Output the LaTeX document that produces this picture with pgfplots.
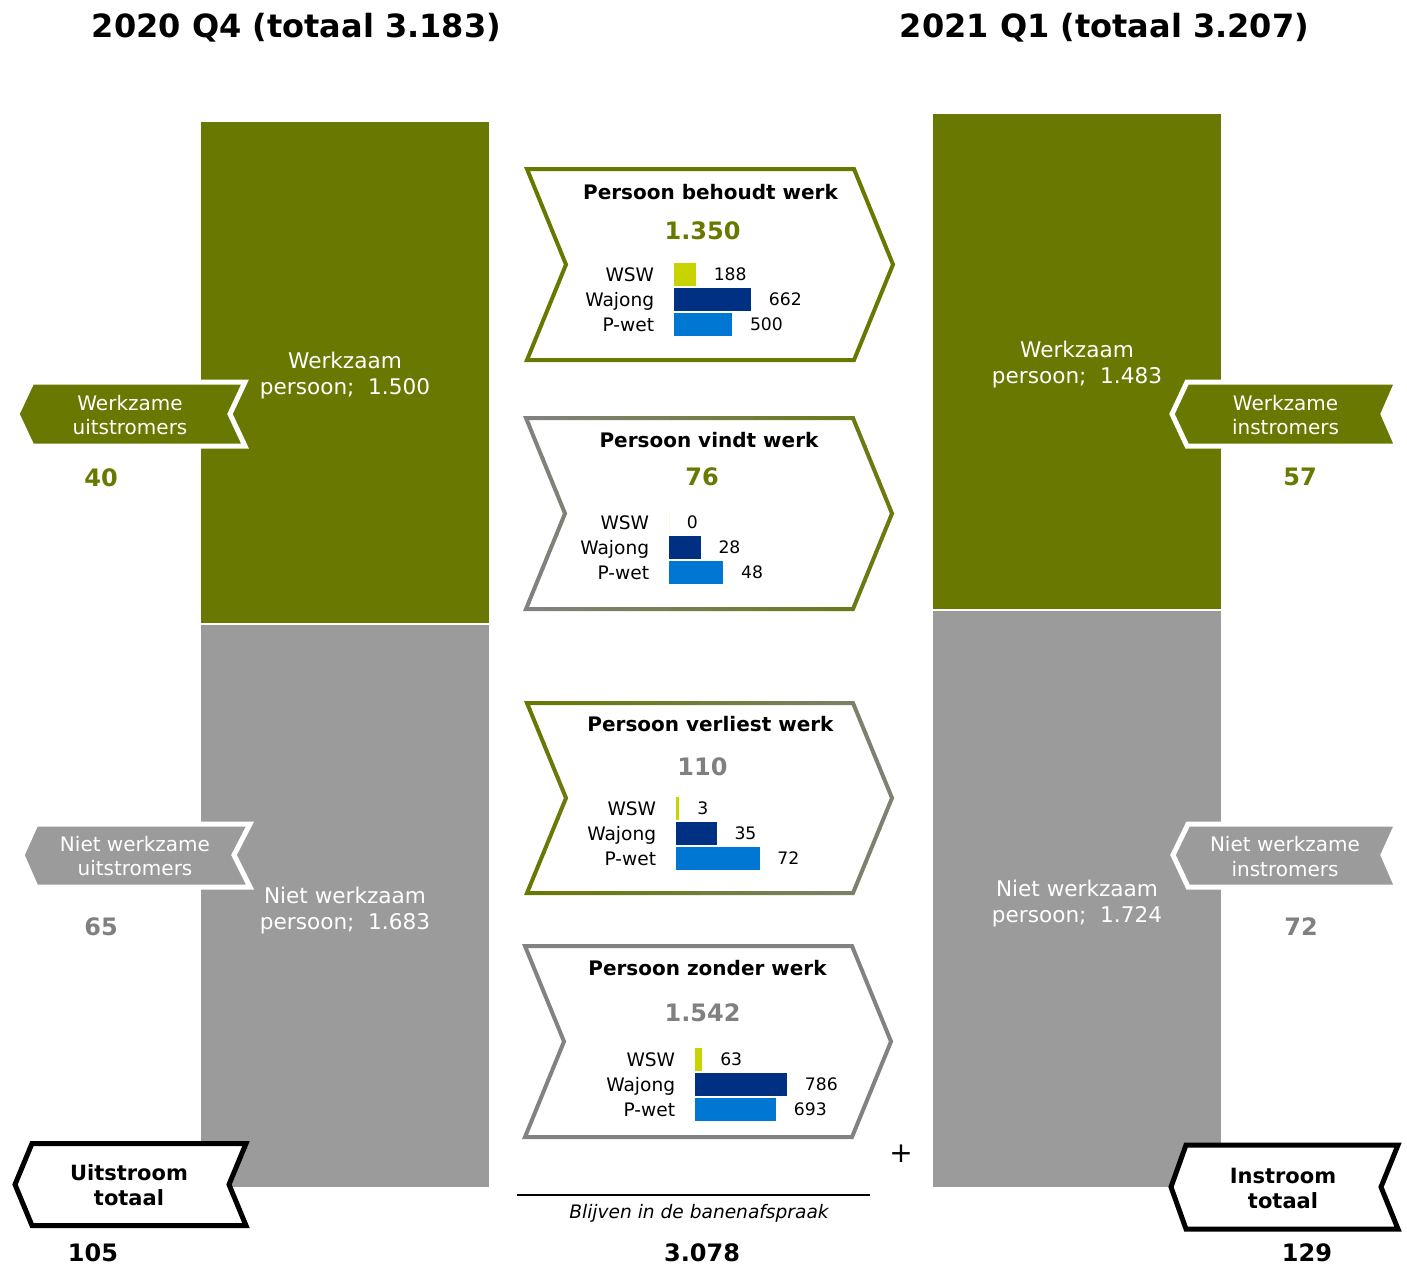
\documentclass[border=0pt]{standalone}
\usepackage{pgfplots}
\pgfplotsset{compat=1.18}
\usepackage{fontspec}
\setmainfont{DejaVu Sans}
\definecolor{cGreen}{RGB}{104,120,0}
\definecolor{cGray}{RGB}{155,155,155}
\definecolor{cLine}{RGB}{130,130,130}
\definecolor{cGrayTxt}{RGB}{128,128,128}
\definecolor{cWSW}{RGB}{200,212,0}
\definecolor{cWaj}{RGB}{0,48,130}
\definecolor{cPwet}{RGB}{0,119,210}
\newcommand\fs[1]{\fontsize{#1}{#1}\selectfont}
\newcommand\T[5]{\node[anchor=base, inner sep=0pt, font=#3, text=#4] at (#1,#2) {#5};}
\newcommand\chev[5]{(#1,#3) -- (#2,#3) -- ({#2+#5},{(#3+#4)/2}) -- (#2,#4) -- (#1,#4) -- ({#1+#5},{(#3+#4)/2}) -- cycle}
\newcommand\gradbox[7]{%
  \foreach \i in {0,...,29} {%
    \pgfmathtruncatemacro\p{round(100*\i/29)}%
    \begin{scope}
      \clip ({#1-10+\i*14},{#3-10}) rectangle ++(14.3,{#4-#3+20});
      \draw[line width=2pt, line join=miter, draw=#7!\p!#6] \chev{#1}{#2}{#3}{#4}{#5};
    \end{scope}
  }}
\newcommand\cats{%
  \node[anchor=base east, inner sep=0pt, font=\fs{9.3}, xshift=-9.75pt, yshift=-3.4pt] at (axis cs:0,2) {WSW};
  \node[anchor=base east, inner sep=0pt, font=\fs{9.3}, xshift=-9.75pt, yshift=-3.4pt] at (axis cs:0,1) {Wajong};
  \node[anchor=base east, inner sep=0pt, font=\fs{9.3}, xshift=-9.75pt, yshift=-3.4pt] at (axis cs:0,0) {P-wet};}
\pgfplotsset{mini/.style={anchor=north west, hide axis, clip=false, xbar, bar shift=0pt,
  bar width=11.5pt, y=12.5pt, ymin=-0.5, ymax=2.5, xmin=0, enlargelimits=false,
  nodes near coords, nodes near coords align={horizontal},
  /pgf/number format/assume math mode=true,
  every node near coord/.append style={inner sep=0pt, xshift=8.75pt, font=\fs{8.6}, text=black},
  every axis plot/.append style={draw=none}}}
\begin{document}
\begin{tikzpicture}
\path[use as bounding box] (0pt,0pt) rectangle (703.5pt,-632.5pt);

% main stacked bars (values)
\begin{axis}[at={(0pt,-632.5pt)}, anchor=south west, scale only axis,
  width=703.5pt, height=632.5pt, xmin=0, xmax=1407, ymin=-229.7, ymax=3543.9,
  hide axis, ybar stacked, bar width=290, clip=false]
\addplot[fill=cGray, draw=white, line width=0.8pt] coordinates {(345,1683) (1077,1724)};
\addplot[fill=cGreen, draw=white, line width=0.8pt] coordinates {(345,1500) (1077,1483)};
\end{axis}

\begin{scope}[x=0.5pt, y=-0.5pt]
% titles
\T{296.5}{37}{\bfseries\fs{16}}{black}{2020 Q4 (totaal 3.183)}
\T{1104.5}{37}{\bfseries\fs{16}}{black}{2021 Q1 (totaal 3.207)}
% bar texts
\T{345}{368}{\fs{10.8}}{white}{Werkzaam}
\T{345}{394}{\fs{10.8}}{white}{persoon;\ \ 1.500}
\T{1077}{357}{\fs{10.8}}{white}{Werkzaam}
\T{1077}{383}{\fs{10.8}}{white}{persoon;\ \ 1.483}
\T{345}{903}{\fs{10.8}}{white}{Niet werkzaam}
\T{345}{929}{\fs{10.8}}{white}{persoon;\ \ 1.683}
\T{1077}{896}{\fs{10.8}}{white}{Niet werkzaam}
\T{1077}{922}{\fs{10.8}}{white}{persoon;\ \ 1.724}
% side arrows
\filldraw[fill=cGreen, draw=white, line width=2.5pt, line join=miter] (32,382) -- (245,382) -- (230,414) -- (245,446) -- (32,446) -- (17,414) -- cycle;
\filldraw[fill=cGreen, draw=white, line width=2.5pt, line join=miter] (1187,382) -- (1397,382) -- (1383,414) -- (1397,446) -- (1187,446) -- (1172,414) -- cycle;
\filldraw[fill=cGray, draw=white, line width=2.5pt, line join=miter] (36,824) -- (250,824) -- (234,855) -- (250,887) -- (36,887) -- (22,855) -- cycle;
\filldraw[fill=cGray, draw=white, line width=2.5pt, line join=miter] (1188,824) -- (1397,824) -- (1383,855) -- (1397,887) -- (1188,887) -- (1173,855) -- cycle;
\T{130}{410}{\fs{10}}{white}{Werkzame}
\T{130}{434}{\fs{10}}{white}{uitstromers}
\T{1285.5}{410}{\fs{10}}{white}{Werkzame}
\T{1285.5}{434}{\fs{10}}{white}{instromers}
\T{135}{851}{\fs{10}}{white}{Niet werkzame}
\T{135}{875}{\fs{10}}{white}{uitstromers}
\T{1285}{851}{\fs{10}}{white}{Niet werkzame}
\T{1285}{876}{\fs{10}}{white}{instromers}
\T{101}{486}{\bfseries\fs{12}}{cGreen}{40}
\T{1300}{485}{\bfseries\fs{12}}{cGreen}{57}
\T{101}{935}{\bfseries\fs{12}}{cGrayTxt}{65}
\T{1301}{935}{\bfseries\fs{12}}{cGrayTxt}{72}
% totals
\filldraw[fill=white, draw=black, line width=2.5pt, line join=miter] (32,1143.5) -- (246,1143.5) -- (229,1184.5) -- (246,1225.5) -- (32,1225.5) -- (15,1184.5) -- cycle;
\filldraw[fill=white, draw=black, line width=2.5pt, line join=miter] (1186,1145) -- (1398,1145) -- (1381,1187) -- (1398,1229) -- (1186,1229) -- (1171,1187) -- cycle;
\T{129}{1180}{\bfseries\fs{10.5}}{black}{Uitstroom}
\T{129}{1205}{\bfseries\fs{10.5}}{black}{totaal}
\T{1283}{1183}{\bfseries\fs{10.5}}{black}{Instroom}
\T{1283}{1208}{\bfseries\fs{10.5}}{black}{totaal}
\T{93}{1261}{\bfseries\fs{12}}{black}{105}
\T{1307}{1261}{\bfseries\fs{12}}{black}{129}
\T{702}{1261}{\bfseries\fs{12}}{black}{3.078}
\draw[line width=1pt] (517,1194.5) -- (870,1194.5);
\T{699}{1218}{\itshape\fs{9.3}}{black}{Blijven in de banenafspraak}
\node[inner sep=0pt, font=\fs{14}] at (901,1154) {+};
% middle boxes
\draw[line width=2pt, line join=miter, draw=cGreen] \chev{527}{854}{169}{360}{39};
\gradbox{526}{853}{418}{609}{39}{cLine}{cGreen}
\gradbox{527}{853}{703}{893}{39}{cGreen}{cLine}
\draw[line width=2pt, line join=miter, draw=cLine] \chev{525}{852}{946}{1137}{39};
\T{710.5}{199}{\bfseries\fs{10}}{black}{Persoon behoudt werk}
\T{709}{447}{\bfseries\fs{10}}{black}{Persoon vindt werk}
\T{710.5}{731}{\bfseries\fs{10}}{black}{Persoon verliest werk}
\T{707.5}{975}{\bfseries\fs{10}}{black}{Persoon zonder werk}
\T{702.5}{239}{\bfseries\fs{12}}{cGreen}{1.350}
\T{702}{485}{\bfseries\fs{12}}{cGreen}{76}
\T{702.5}{775}{\bfseries\fs{12}}{cGrayTxt}{110}
\T{702.5}{1021}{\bfseries\fs{12}}{cGrayTxt}{1.542}
\end{scope}

% mini bar charts
\begin{axis}[mini, at={(337pt,-131pt)}, x=0.05815pt, xmax=800]
\addplot[fill=cWSW] coordinates {(188,2)};
\addplot[fill=cWaj] coordinates {(662,1)};
\addplot[fill=cPwet] coordinates {(500,0)};
\cats
\end{axis}
\begin{axis}[mini, at={(334.5pt,-255pt)}, x=0.565pt, xmax=60]
\addplot[fill=cWSW] coordinates {(0,2)};
\addplot[fill=cWaj] coordinates {(28,1)};
\addplot[fill=cPwet] coordinates {(48,0)};
\cats
\end{axis}
\begin{axis}[mini, at={(338pt,-398pt)}, x=0.58pt, xmax=80]
\addplot[fill=cWSW] coordinates {(3,2)};
\addplot[fill=cWaj] coordinates {(35,1)};
\addplot[fill=cPwet] coordinates {(72,0)};
\cats
\end{axis}
\begin{axis}[mini, at={(347.5pt,-523.5pt)}, x=0.0585pt, xmax=800]
\addplot[fill=cWSW] coordinates {(63,2)};
\addplot[fill=cWaj] coordinates {(786,1)};
\addplot[fill=cPwet] coordinates {(693,0)};
\cats
\end{axis}
\end{tikzpicture}
\end{document}
